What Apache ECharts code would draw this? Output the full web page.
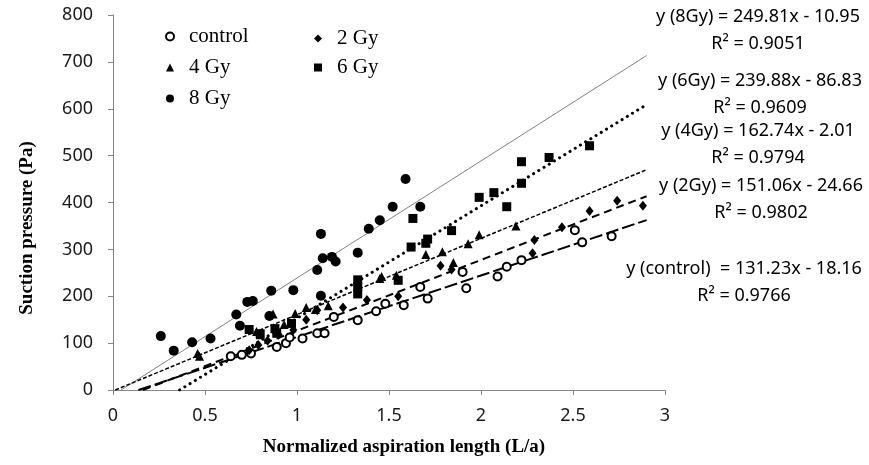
<!DOCTYPE html>
<html>
<head>
<meta charset="utf-8">
<script src="https://cdn.jsdelivr.net/npm/echarts@6/dist/echarts.min.js"></script>
<style>
  html, body { margin: 0; padding: 0; background: #fff; }
  #chart { width: 869px; height: 465px; }
</style>
</head>
<body>
<div id="chart"></div>
<script>
// measured points: [L/a, pressure Pa]
var control = [[0.64,72],[0.70,75],[0.75,78],[0.89,92],[0.94,100],[0.96,112],[1.03,110],[1.11,121],[1.15,121],
    [1.20,156],[1.33,149],[1.43,168],[1.48,184],[1.58,181],[1.67,220],[1.71,195],[1.90,252],[1.92,217],
    [2.09,242],[2.14,263],[2.22,277],[2.51,341],[2.55,315],[2.71,328]];
var gy2 = [[0.74,85],[0.79,96],[0.84,105],[0.90,118],[0.98,128],[1.05,150],[1.11,170],[1.25,176],[1.38,192],
    [1.55,200],[1.78,265],[1.84,257],[2.28,292],[2.29,320],[2.44,347],[2.59,382],[2.74,404],[2.88,393]];
var gy4 = [[0.46,78],[0.47,72],[0.78,125],[0.80,118],[0.87,162],[0.93,140],[0.99,163],[1.05,176],[1.10,172],
    [1.17,180],[1.45,238],[1.46,242],[1.54,245],[1.70,289],[1.79,295],[1.85,272],[1.93,312],[1.99,331],[2.19,350]];
var gy6 = [[0.74,129],[0.80,120],[0.88,131],[0.89,121],[0.97,142],[1.33,235],[1.33,220],[1.33,205],[1.55,234],
    [1.62,305],[1.63,366],[1.70,313],[1.71,322],[1.84,340],[1.99,411],[2.07,421],[2.14,391],[2.22,441],
    [2.22,487],[2.37,496],[2.59,521]];
var gy8 = [[0.26,115],[0.33,84],[0.43,102],[0.53,110],[0.67,161],[0.69,137],[0.73,188],[0.76,190],[0.85,158],
    [0.86,212],[0.98,213],[1.11,256],[1.13,333],[1.13,201],[1.14,281],[1.19,284],[1.21,274],[1.33,293],
    [1.39,344],[1.45,362],[1.52,391],[1.59,450],[1.67,391]];

// linear fits: [slope, intercept, R2]
var fitControl = [131.23, -18.16, 0.9766];
var fit2 = [151.06, -24.66, 0.9802];
var fit4 = [162.74, -2.01, 0.9794];
var fit6 = [239.88, -86.83, 0.9609];
var fit8 = [249.81, -10.95, 0.9051];
var fitEnd = 2.9;

function trend(fit) {
    var x0 = -fit[1] / fit[0];
    if (x0 < 0) x0 = 0;
    return [[x0, fit[0] * x0 + fit[1]], [fitEnd, fit[0] * fitEnd + fit[1]]];
}

var sans = 'Noto Sans';
var serif = 'Liberation Serif';
var eqFont = '18px "' + sans + '"';
var nameFont = 'bold 19px "' + serif + '"';

function eq(label, fit, x, y) {
    var s = fit[1] < 0 ? ' - ' : ' + ';
    return [
        { type: 'text', x: x, y: y, style: { text: label + ' = ' + fit[0].toFixed(2) + 'x' + s + Math.abs(fit[1]).toFixed(2),
            font: eqFont, fill: '#000', align: 'center', verticalAlign: 'middle' } },
        { type: 'text', x: x, y: y + 27, style: { text: 'R\u00b2 = ' + fit[2].toFixed(4),
            font: eqFont, fill: '#000', align: 'center', verticalAlign: 'middle' } }
    ];
}

function fitLine(name, fit, style) {
    return {
        name: name + ' fit', type: 'line', data: trend(fit), symbol: 'none', silent: true,
        lineStyle: style, z: 1
    };
}

var legendText = { fontFamily: serif, fontSize: 21, color: '#000', lineHeight: 20, padding: [0, 0, 0, 10] };

var chart = echarts.init(document.getElementById('chart'));
var option = {
    animation: false,
    grid: { left: 113, right: 204, top: 15, bottom: 75 },
    legend: [{
        data: [{ name: 'control', icon: 'emptyCircle' }, { name: '4 Gy', icon: 'triangle' }, { name: '8 Gy', icon: 'circle' }],
        orient: 'vertical', left: 165, top: 26, padding: 0, itemWidth: 8, itemHeight: 8, itemGap: 10,
        textStyle: legendText
    }, {
        data: [{ name: '2 Gy', icon: 'diamond' }, { name: '6 Gy', icon: 'rect' }],
        orient: 'vertical', left: 314, top: 28, padding: 0, itemWidth: 8, itemHeight: 8, itemGap: 8,
        textStyle: legendText
    }],
    xAxis: {
        type: 'value', min: 0, max: 3, interval: 0.5,
        axisLine: { lineStyle: { color: '#868686', width: 1 } },
        axisTick: { show: true, length: 5, lineStyle: { color: '#868686' } },
        axisLabel: { fontFamily: sans, fontSize: 18, color: '#1a1a1a', margin: 17 },
        splitLine: { show: false }
    },
    yAxis: {
        type: 'value', min: 0, max: 800, interval: 100,
        axisLine: { show: true, lineStyle: { color: '#868686', width: 1 } },
        axisTick: { show: true, length: 5, lineStyle: { color: '#868686' } },
        axisLabel: { fontFamily: sans, fontSize: 18, color: '#1a1a1a', margin: 20 },
        splitLine: { show: false }
    },
    graphic: [].concat(
        eq('y (8Gy)', fit8, 758, 17),
        eq('y (6Gy)', fit6, 760, 81),
        eq('y (4Gy)', fit4, 758, 131),
        eq('y (2Gy)', fit2, 761, 186),
        eq('y (control) ', fitControl, 744, 269),
        [{ type: 'text', x: 404, y: 447, style: { text: 'Normalized aspiration length (L/a)',
            font: nameFont, fill: '#000', align: 'center', verticalAlign: 'middle' } },
         { type: 'text', x: 27, y: 228, rotation: Math.PI / 2, style: { text: 'Suction pressure (Pa)',
            font: nameFont, fill: '#000', align: 'center', verticalAlign: 'middle' } }]
    ),
    series: [
        fitLine('8 Gy', fit8, { color: '#808080', width: 1, type: 'solid' }),
        fitLine('6 Gy', fit6, { color: '#000', width: 3, type: [0.1, 6], cap: 'round' }),
        fitLine('4 Gy', fit4, { color: '#000', width: 1.5, type: [4, 2] }),
        fitLine('2 Gy', fit2, { color: '#000', width: 2, type: [8, 5] }),
        fitLine('control', fitControl, { color: '#000', width: 2, type: [13, 4] }),
        { name: 'control', type: 'scatter', data: control, symbol: 'emptyCircle', symbolSize: 8,
          itemStyle: { color: '#000', borderColor: '#000', borderWidth: 1.2, opacity: 1 }, z: 3 },
        { name: '2 Gy', type: 'scatter', data: gy2, symbol: 'diamond', symbolSize: [8, 10],
          itemStyle: { color: '#000', opacity: 1 }, z: 3 },
        { name: '4 Gy', type: 'scatter', data: gy4, symbol: 'triangle', symbolSize: 9,
          itemStyle: { color: '#000', opacity: 1 }, z: 3 },
        { name: '6 Gy', type: 'scatter', data: gy6, symbol: 'rect', symbolSize: 9,
          itemStyle: { color: '#000', opacity: 1 }, z: 3 },
        { name: '8 Gy', type: 'scatter', data: gy8, symbol: 'circle', symbolSize: 10,
          itemStyle: { color: '#000', opacity: 1 }, z: 3 }
    ]
};
chart.setOption(option);
</script>
</body>
</html>
